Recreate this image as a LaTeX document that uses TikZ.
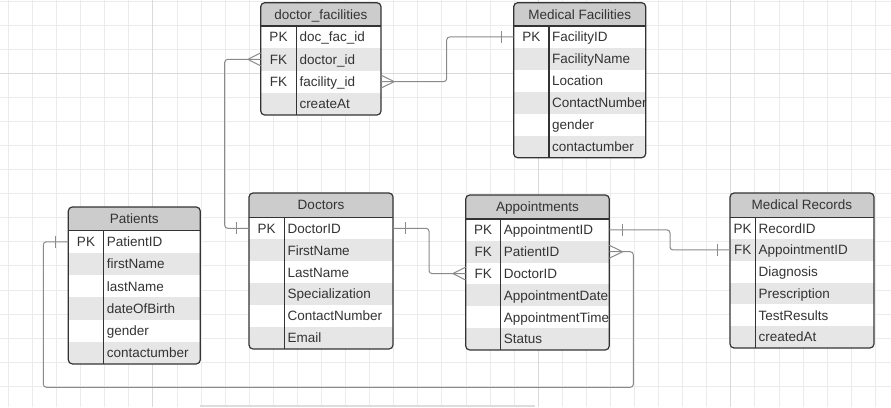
\documentclass[tikz,border=0pt]{standalone}
\usepackage{fontspec}
\setmainfont{Liberation Sans}
\usetikzlibrary{calc}
\definecolor{gridminor}{HTML}{EBEBEB}
\definecolor{gridmajor}{HTML}{DADADA}
\definecolor{hdrfill}{HTML}{CCCCCC}
\definecolor{altfill}{HTML}{E6E6E6}
\definecolor{bordercol}{HTML}{333333}
\definecolor{txtcol}{HTML}{333333}
\definecolor{conncol}{HTML}{8A8A8A}
\definecolor{barcol}{HTML}{DDDDDD}

\tikzset{
  rowbox/.style={inner sep=0pt, outer sep=0pt, draw=none},
  celltext/.style={inner sep=0pt, outer sep=0pt, text=txtcol, font=\fontsize{13.5}{16}\selectfont, text height=9.67pt, text depth=0pt},
  tblborder/.style={draw=bordercol, line width=1.2pt},
  conn/.style={draw=conncol, line width=1pt, rounded corners=3pt},
  connsym/.style={draw=conncol, line width=1pt},
}

% #1 name #2 title #3 L #4 T #5 R #6 header bottom #7 divider #8 row height #9 rows
\newcommand\ertable[9]{%
  \foreach \kk/\ff [count=\cc] in {#9} {\xdef\ertn{\cc}}%
  \pgfmathsetmacro\ertB{#6+\ertn*#8}%
  \pgfmathsetmacro\ertW{#5-#3}%
  \begin{scope}
    \clip[rounded corners=4pt] (#3,#4) rectangle (#5,\ertB);
    \fill[hdrfill] (#3,#4) rectangle (#5,#6);
    \foreach \kk/\ff [count=\cc] in {#9} {
      \pgfmathsetmacro\ym{#6+(\cc-0.5)*#8}
      \ifodd\cc\relax \def\rowfill{white}\else \def\rowfill{altfill}\fi
      \node[rowbox, fill=\rowfill, minimum width=\ertW pt, minimum height=#8pt]
        (#1-row\cc) at ({(#3+#5)/2},\ym) {};
    }
  \end{scope}
  \draw[tblborder] (#3,#6) -- (#5,#6);
  \draw[tblborder] (#7,#6) -- (#7,\ertB);
  \draw[tblborder, rounded corners=4pt] (#3,#4) rectangle (#5,\ertB);
  \node[celltext] (#1-h) at ({(#3+#5)/2},{(#4+#6)/2}) {#2};
  \foreach \kk/\ff [count=\cc] in {#9} {
    \pgfmathsetmacro\ym{#6+(\cc-0.5)*#8}
    \node[celltext] (#1-k\cc) at ({(#3+#7)/2},\ym) {\kk};
    \node[celltext, anchor=west] (#1-f\cc) at ({#7+3.2},\ym) {\ff};
  }%
}

\newcommand\barL[2]{\draw[connsym] ($(#1.west)+(-#2,-6)$) -- ($(#1.west)+(-#2,6)$);}
\newcommand\barR[2]{\draw[connsym] ($(#1.east)+(#2,-6)$) -- ($(#1.east)+(#2,6)$);}
\newcommand\crowL[1]{\draw[connsym] ($(#1.west)+(0,-6.5)$) -- ($(#1.west)+(-12.8,0)$) -- ($(#1.west)+(0,6.5)$);}
\newcommand\crowR[1]{\draw[connsym] ($(#1.east)+(0,-6.5)$) -- ($(#1.east)+(13.2,0)$) -- ($(#1.east)+(0,6.5)$);}

\begin{document}
\begin{tikzpicture}[x=1pt,y=-1pt]
  \useasboundingbox (0,0) rectangle (891,407);
  \fill[white] (0,0) rectangle (891,407);
  % grid
  \foreach \k in {0,...,36} {
    \draw[gridminor, line width=0.8pt] ({8.4+24.08*\k},0) -- ({8.4+24.08*\k},407);
  }
  \foreach \k in {0,...,16} {
    \draw[gridminor, line width=0.8pt] (0,{1+24.08*\k}) -- (891,{1+24.08*\k});
  }
  \foreach \k in {6,22,30} {
    \draw[gridmajor, line width=1pt] ({8.4+24.08*\k},0) -- ({8.4+24.08*\k},407);
  }
  \draw[gridmajor, line width=1pt] (0,73.3) -- (891,73.3);
  % bottom bar
  \fill[barcol] (200,405.2) rectangle (535,407);

  % tables
  \ertable{df}{doctor\_facilities}{260.7}{2.7}{381}{26}{296.3}{22.25}%
    {PK/doc\_fac\_id, FK/doctor\_id, FK/facility\_id, {}/createAt}
  \ertable{mf}{Medical Facilities}{513.7}{2.7}{645.7}{26}{549}{21.95}%
    {PK/FacilityID, {}/FacilityName, {}/Location, {}/ContactNumber, {}/gender, {}/contactumber}
  \ertable{pat}{Patients}{68.3}{207}{200.3}{230.7}{103.7}{22.2}%
    {PK/PatientID, {}/firstName, {}/lastName, {}/dateOfBirth, {}/gender, {}/contactumber}
  \ertable{doc}{Doctors}{249}{193}{393}{217.3}{284.3}{21.95}%
    {PK/DoctorID, {}/FirstName, {}/LastName, {}/Specialization, {}/ContactNumber, {}/Email}
  \ertable{ap}{Appointments}{465.7}{195}{609.3}{219}{500.7}{21.83}%
    {PK/AppointmentID, FK/PatientID, FK/DoctorID, {}/AppointmentDate, {}/AppointmentTime, {}/Status}
  \ertable{mr}{Medical Records}{730}{193}{874}{217.3}{755.3}{21.78}%
    {PK/RecordID, FK/AppointmentID, {}/Diagnosis, {}/Prescription, {}/TestResults, {}/createdAt}

  % connectors
  \draw[conn] (df-row2.west) -- ++(-36,0) |- (doc-row1.west);
  \crowL{df-row2}
  \barL{doc-row1}{13}

  \draw[conn] (df-row3.east) -- ++(65.7,0) |- (mf-row1.west);
  \crowR{df-row3}
  \barL{mf-row1}{12.7}

  \draw[conn] (doc-row1.east) -- ++(36,0) |- (ap-row3.west);
  \barR{doc-row1}{12.7}
  \crowL{ap-row3}

  \draw[conn] (ap-row1.east) -- ++(60.7,0) |- (mr-row2.west);
  \barR{ap-row1}{13.4}
  \barL{mr-row2}{12.3}

  \coordinate (loopR) at (633.3,387.3);
  \coordinate (loopL) at (43.3,387.3);
  \draw[conn] (ap-row2.east) -| (loopR) -- (loopL) |- (pat-row1.west);
  \crowR{ap-row2}
  \barL{pat-row1}{13.3}
\end{tikzpicture}
\end{document}
